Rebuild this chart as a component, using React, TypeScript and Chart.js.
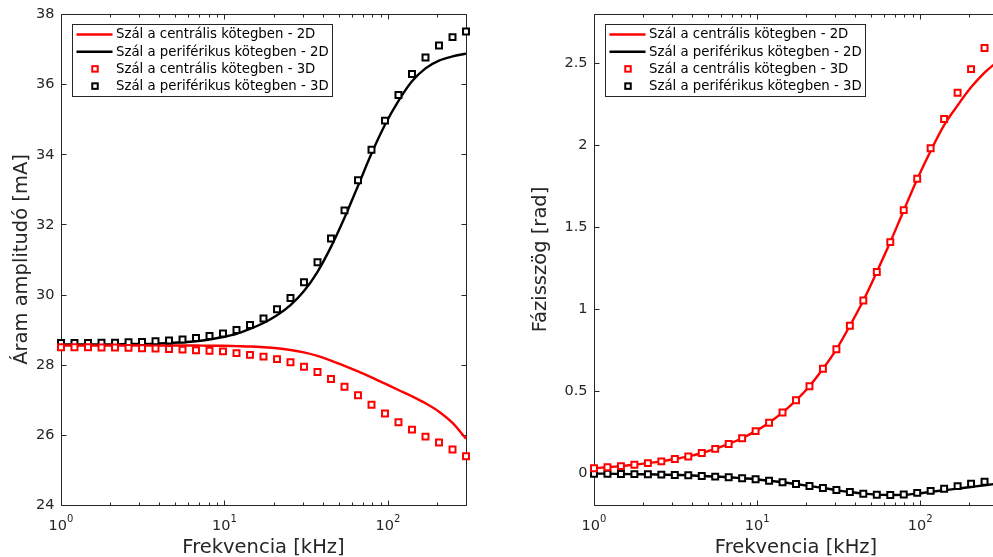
import React, { useEffect, useRef } from "react";
import { Chart, registerables } from "chart.js";

Chart.register(...registerables);

const FONT = "'DejaVu Sans', 'Liberation Sans', sans-serif";
const AXIS_COLOR = "#262626";
const RED = "#ff0000";
const BLACK = "#000000";

// Frequency points [kHz]
const frequencies = [
  1, 1.209, 1.463, 1.769, 2.14, 2.588, 3.13, 3.785, 4.578, 5.536, 6.694, 8.096, 9.791, 11.84, 14.32, 17.32,
  20.95, 25.33, 30.64, 37.06, 44.81, 54.2, 65.55, 79.27, 95.87, 115.9, 140.2, 169.6, 205.1, 248.1, 300,
];

// Current amplitude [mA]
const ampCentral2D = [
  28.55, 28.55, 28.55, 28.55, 28.55, 28.55, 28.55, 28.55, 28.55, 28.55, 28.55, 28.54, 28.54, 28.53, 28.52, 28.5,
  28.47, 28.42, 28.35, 28.25, 28.12, 27.97, 27.81, 27.64, 27.46, 27.28, 27.1, 26.9, 26.66, 26.34, 25.89,
];
const ampPeripheral2D = [
  28.58, 28.58, 28.58, 28.58, 28.58, 28.59, 28.59, 28.6, 28.62, 28.64, 28.67, 28.72, 28.79, 28.88, 29.02, 29.19,
  29.41, 29.7, 30.1, 30.65, 31.36, 32.19, 33.1, 34.02, 34.84, 35.52, 36.08, 36.45, 36.67, 36.79, 36.87,
];
const ampCentral3D = [
  28.5, 28.5, 28.5, 28.49, 28.49, 28.48, 28.47, 28.46, 28.45, 28.43, 28.41, 28.4, 28.38, 28.33, 28.28, 28.23,
  28.16, 28.07, 27.94, 27.79, 27.59, 27.37, 27.13, 26.86, 26.61, 26.36, 26.15, 25.95, 25.78, 25.58, 25.39,
];
const ampPeripheral3D = [
  28.62, 28.62, 28.62, 28.63, 28.63, 28.64, 28.65, 28.67, 28.69, 28.72, 28.76, 28.82, 28.89, 28.99, 29.13, 29.32,
  29.58, 29.9, 30.35, 30.92, 31.6, 32.4, 33.26, 34.13, 34.96, 35.69, 36.29, 36.76, 37.1, 37.34, 37.5,
];

// Phase angle [rad]
const phaseCentral2D = [
  0.029, 0.035, 0.042, 0.05, 0.06, 0.071, 0.085, 0.101, 0.122, 0.147, 0.177, 0.212, 0.255, 0.306, 0.369, 0.443,
  0.529, 0.635, 0.754, 0.897, 1.051, 1.225, 1.407, 1.6, 1.79, 1.962, 2.12, 2.24, 2.35, 2.44, 2.51,
];
const phasePeripheral2D = [
  -0.004, -0.004, -0.006, -0.007, -0.008, -0.01, -0.012, -0.014, -0.018, -0.022, -0.026, -0.032, -0.038, -0.047,
  -0.056, -0.067, -0.079, -0.091, -0.104, -0.116, -0.126, -0.132, -0.134, -0.133, -0.125, -0.115, -0.105, -0.095,
  -0.085, -0.075, -0.064,
];
const phaseCentral3D = [
  0.029, 0.035, 0.042, 0.05, 0.06, 0.071, 0.085, 0.101, 0.122, 0.147, 0.177, 0.212, 0.255, 0.306, 0.369, 0.443,
  0.529, 0.635, 0.754, 0.897, 1.051, 1.225, 1.407, 1.602, 1.793, 1.979, 2.157, 2.317, 2.461, 2.59, 2.7,
];
const phasePeripheral3D = [
  -0.004, -0.004, -0.006, -0.007, -0.008, -0.01, -0.012, -0.014, -0.018, -0.022, -0.026, -0.032, -0.038, -0.047,
  -0.056, -0.067, -0.079, -0.091, -0.104, -0.116, -0.126, -0.132, -0.134, -0.131, -0.121, -0.109, -0.096, -0.08,
  -0.066, -0.053, -0.042,
];

const seriesLabels = [
  "Szál a centrális kötegben - 2D",
  "Szál a periférikus kötegben - 2D",
  "Szál a centrális kötegben - 3D",
  "Szál a periférikus kötegben - 3D",
];

// Axis ticks
const xMajorTicks = [1, 10, 100];
const xMajorExponents = ["0", "1", "2"];
const xMinorTicks = [2, 3, 4, 5, 6, 7, 8, 9, 20, 30, 40, 50, 60, 70, 80, 90, 200, 300];
const ampTicks = [24, 26, 28, 30, 32, 34, 36, 38];
const ampTickLabels = ["24", "26", "28", "30", "32", "34", "36", "38"];
const phaseTicks = [0, 0.5, 1, 1.5, 2, 2.5];
const phaseTickLabels = ["0", "0.5", "1", "1.5", "2", "2.5"];

const xTitle = "Frekvencia [kHz]";
const ampTitle = "Áram amplitudó [mA]";
const phaseTitle = "Fázisszög [rad]";

const TICK_FONT = `14.5px ${FONT}`;
const EXP_FONT = `10px ${FONT}`;
const TITLE_FONT = `19.5px ${FONT}`;
const LEGEND_FONT = `13.3px ${FONT}`;

type AxesOpts = {
  yTicks: number[];
  yTickLabels: string[];
  yTitle: string;
  yTitleX: number;
};

// MATLAB-style box axes: inward ticks on all four sides, log minor ticks, legend box
const boxAxesPlugin = {
  id: "boxAxes",
  beforeDatasetsDraw(chart: any, _args: any, opts: AxesOpts) {
    const { ctx, chartArea: a, scales } = chart;
    const xs = scales.x;
    const ys = scales.y;
    const L = Math.round(a.left) + 0.5;
    const R = Math.round(a.right) + 0.5;
    const T = Math.round(a.top) + 0.5;
    const B = Math.round(a.bottom) + 0.5;
    ctx.save();
    ctx.strokeStyle = AXIS_COLOR;
    ctx.lineWidth = 1;
    ctx.beginPath();
    ctx.rect(L, T, R - L, B - T);
    ctx.stroke();

    const major = 5;
    const minor = 3;
    ctx.beginPath();
    for (const v of xMajorTicks) {
      const px = Math.round(xs.getPixelForValue(v)) + 0.5;
      ctx.moveTo(px, B);
      ctx.lineTo(px, B - major);
      ctx.moveTo(px, T);
      ctx.lineTo(px, T + major);
    }
    for (const v of xMinorTicks) {
      const px = Math.round(xs.getPixelForValue(v)) + 0.5;
      ctx.moveTo(px, B);
      ctx.lineTo(px, B - minor);
      ctx.moveTo(px, T);
      ctx.lineTo(px, T + minor);
    }
    for (const v of opts.yTicks) {
      const py = Math.round(ys.getPixelForValue(v)) + 0.5;
      ctx.moveTo(L, py);
      ctx.lineTo(L + major, py);
      ctx.moveTo(R, py);
      ctx.lineTo(R - major, py);
    }
    ctx.stroke();

    // y tick labels
    ctx.fillStyle = AXIS_COLOR;
    ctx.font = TICK_FONT;
    ctx.textAlign = "right";
    ctx.textBaseline = "middle";
    opts.yTicks.forEach((v, i) => {
      ctx.fillText(opts.yTickLabels[i], a.left - 6.5, ys.getPixelForValue(v) + 0.5);
    });

    // x tick labels as powers of ten
    ctx.textAlign = "left";
    ctx.textBaseline = "alphabetic";
    xMajorTicks.forEach((v, i) => {
      const px = xs.getPixelForValue(v);
      ctx.font = TICK_FONT;
      const wb = ctx.measureText("10").width;
      ctx.font = EXP_FONT;
      const we = ctx.measureText(xMajorExponents[i]).width;
      const x0 = px - (wb + we) / 2;
      ctx.font = TICK_FONT;
      ctx.fillText("10", x0, a.bottom + 25);
      ctx.font = EXP_FONT;
      ctx.fillText(xMajorExponents[i], x0 + wb, a.bottom + 17);
    });

    // axis titles
    ctx.font = TITLE_FONT;
    ctx.textAlign = "center";
    ctx.fillText(xTitle, (a.left + a.right) / 2, a.bottom + 47.5);
    ctx.save();
    ctx.translate(opts.yTitleX, (a.top + a.bottom) / 2);
    ctx.rotate(-Math.PI / 2);
    ctx.fillText(opts.yTitle, 0, 0);
    ctx.restore();
    ctx.restore();
  },
  afterDraw(chart: any) {
    const { ctx, chartArea: a } = chart;
    const datasets = chart.data.datasets;
    ctx.save();
    ctx.font = LEGEND_FONT;
    let maxW = 0;
    datasets.forEach((d: any) => {
      maxW = Math.max(maxW, ctx.measureText(d.label).width);
    });
    const bx = Math.round(a.left + 10.5) + 0.5;
    const by = Math.round(a.top + 9.5) + 0.5;
    const textX = bx + 43.5;
    const bw = Math.round(textX - bx + maxW + 4);
    const rowH = 17.2;
    const bh = 72;
    ctx.fillStyle = "#ffffff";
    ctx.fillRect(bx, by, bw, bh);
    ctx.strokeStyle = AXIS_COLOR;
    ctx.lineWidth = 1;
    ctx.strokeRect(bx, by, bw, bh);
    datasets.forEach((d: any, i: number) => {
      const cy = by + 10 + rowH * i;
      if (d.showLine) {
        ctx.strokeStyle = d.borderColor;
        ctx.lineWidth = 2.4;
        ctx.beginPath();
        ctx.moveTo(bx + 4, cy);
        ctx.lineTo(bx + 40, cy);
        ctx.stroke();
      } else {
        const s = 5.5;
        ctx.fillStyle = "#ffffff";
        ctx.strokeStyle = d.pointBorderColor;
        ctx.lineWidth = 2;
        ctx.fillRect(bx + 22.5 - s / 2, cy - s / 2, s, s);
        ctx.strokeRect(bx + 22.5 - s / 2, cy - s / 2, s, s);
      }
      ctx.fillStyle = "#000000";
      ctx.textAlign = "left";
      ctx.textBaseline = "middle";
      ctx.fillText(d.label, textX, cy + 0.5);
    });
    ctx.restore();
  },
};

function toPoints(values: number[]) {
  return frequencies.map((f, i) => ({ x: f, y: values[i] }));
}

function lineSet(label: string, values: number[], color: string) {
  return {
    label,
    data: toPoints(values),
    showLine: true,
    borderColor: color,
    backgroundColor: color,
    borderWidth: 2.4,
    pointRadius: 0,
    cubicInterpolationMode: "monotone",
    clip: false,
    order: 2,
  };
}

function markerSet(label: string, values: number[], color: string) {
  return {
    label,
    data: toPoints(values),
    showLine: false,
    pointStyle: "rect",
    pointRadius: 4.2,
    pointBorderWidth: 2,
    pointBorderColor: color,
    pointBackgroundColor: "#ffffff",
    borderColor: color,
    backgroundColor: "#ffffff",
    clip: false,
    order: 1,
  };
}

type PanelProps = {
  left: number;
  width: number;
  padding: { left: number; right: number; top: number; bottom: number };
  yMin: number;
  yMax: number;
  yTicks: number[];
  yTickLabels: string[];
  yTitle: string;
  yTitleX: number;
  series: number[][];
};

function Panel(p: PanelProps) {
  const ref = useRef<HTMLCanvasElement | null>(null);
  useEffect(() => {
    if (!ref.current) return;
    const chart = new Chart(ref.current, {
      type: "scatter",
      data: {
        datasets: [
          lineSet(seriesLabels[0], p.series[0], RED),
          lineSet(seriesLabels[1], p.series[1], BLACK),
          markerSet(seriesLabels[2], p.series[2], RED),
          markerSet(seriesLabels[3], p.series[3], BLACK),
        ] as any,
      },
      options: {
        animation: false,
        responsive: false,
        devicePixelRatio: 1,
        events: [],
        layout: { padding: p.padding },
        scales: {
          x: { type: "logarithmic", min: 1, max: 300, display: false },
          y: { type: "linear", min: p.yMin, max: p.yMax, display: false },
        },
        plugins: {
          legend: { display: false },
          tooltip: { enabled: false },
          boxAxes: {
            yTicks: p.yTicks,
            yTickLabels: p.yTickLabels,
            yTitle: p.yTitle,
            yTitleX: p.yTitleX,
          },
        } as any,
      },
      plugins: [boxAxesPlugin as any],
    });
    return () => chart.destroy();
  }, []);
  return (
    <canvas
      ref={ref}
      width={p.width}
      height={557}
      style={{ position: "absolute", left: p.left, top: 0, width: p.width, height: 557 }}
    />
  );
}

export default function App() {
  return (
    <div
      style={{
        position: "fixed",
        left: 0,
        top: 0,
        width: 993,
        height: 557,
        overflow: "hidden",
        background: "#ffffff",
      }}
    >
      <Panel
        left={0}
        width={500}
        padding={{ left: 61, right: 34, top: 14, bottom: 52 }}
        yMin={24}
        yMax={38}
        yTicks={ampTicks}
        yTickLabels={ampTickLabels}
        yTitle={ampTitle}
        yTitleX={27}
        series={[ampCentral2D, ampPeripheral2D, ampCentral3D, ampPeripheral3D]}
      />
      <Panel
        left={500}
        width={520}
        padding={{ left: 94, right: 22, top: 14, bottom: 52 }}
        yMin={-0.195}
        yMax={2.797}
        yTicks={phaseTicks}
        yTickLabels={phaseTickLabels}
        yTitle={phaseTitle}
        yTitleX={46}
        series={[phaseCentral2D, phasePeripheral2D, phaseCentral3D, phasePeripheral3D]}
      />
    </div>
  );
}
